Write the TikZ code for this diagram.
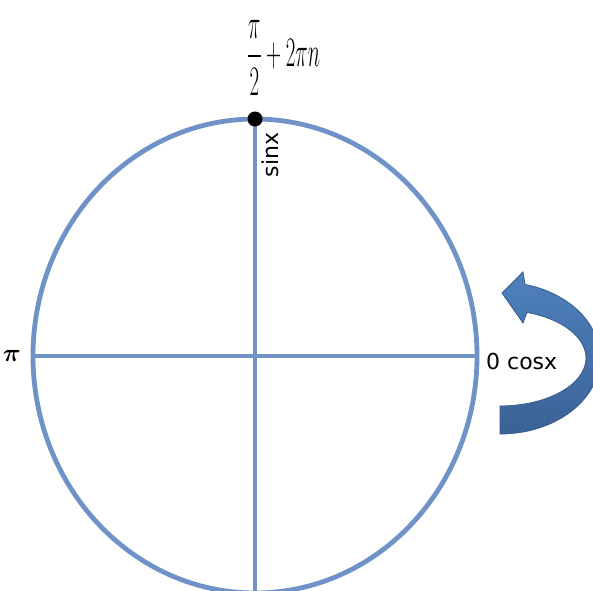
\documentclass[tikz,border=0pt]{standalone}
\usepackage{fontspec}
\usepackage{amsmath,bm}
\newfontfamily\axisfont{DejaVu Sans}
\usetikzlibrary{positioning,calc}
\definecolor{circ}{HTML}{6F93C6}
\definecolor{arrtop}{HTML}{4F81BD}
\definecolor{arrbot}{HTML}{3A6296}
\definecolor{arredge}{HTML}{385D8A}

\begin{document}
\begin{tikzpicture}[
  x=1pt,y=1pt,
  axis/.style={draw=circ, line width=4.8pt},
  lbl/.style={font=\axisfont\fontsize{22}{26}\selectfont, inner sep=0pt},
  dotnode/.style={circle, fill=black, minimum size=15pt, inner sep=0pt},
  turn/.style={draw=arredge, line width=0.8pt, top color=arrtop, bottom color=arrbot},
]
\useasboundingbox (0,0) rectangle (593,590);
\clip (0,0) rectangle (593,590);
% (a) the circle and its two axes
\coordinate (O) at (255,234);
\coordinate (top) at (255,471);
\coordinate (bot) at (255,-4);
\coordinate (lft) at (33,234);
\coordinate (rgt) at (477,234);
\draw[axis] (O) ellipse [x radius=222, y radius=237];
\draw[axis] (lft) -- (rgt);
\draw[axis] (top) -- (bot);
% (b) the marked point at the top
\node[dotnode] (pt) at (top) {};
\node[anchor=west, inner sep=0pt, font=\fontsize{24.88}{28}\selectfont] (toplbl) at (247,532)
  {\scalebox{0.84}[1.69]{$\displaystyle\frac{\pi}{2}+2\pi n$}};
% (c) axis labels
\node[lbl, rotate=90] (sinlbl) at (270,435) {sinx};
\node[lbl, anchor=west] (coslbl) at (486,229) {0 cosx};
\node[anchor=east, inner sep=0pt, font=\fontsize{24.88}{28}\selectfont] (pilbl) at (21,234) {$\bm{\pi}$};
% (d) turning arrow on the right
\path[turn] (500,156) arc[start angle=-90, end angle=75.5, x radius=100, y radius=76]
  -- (523,318) -- (502,297) -- (523,267) -- (527,277.6)
  arc[start angle=71.7, end angle=-90, x radius=86, y radius=48] -- cycle;
\end{tikzpicture}
\end{document}
